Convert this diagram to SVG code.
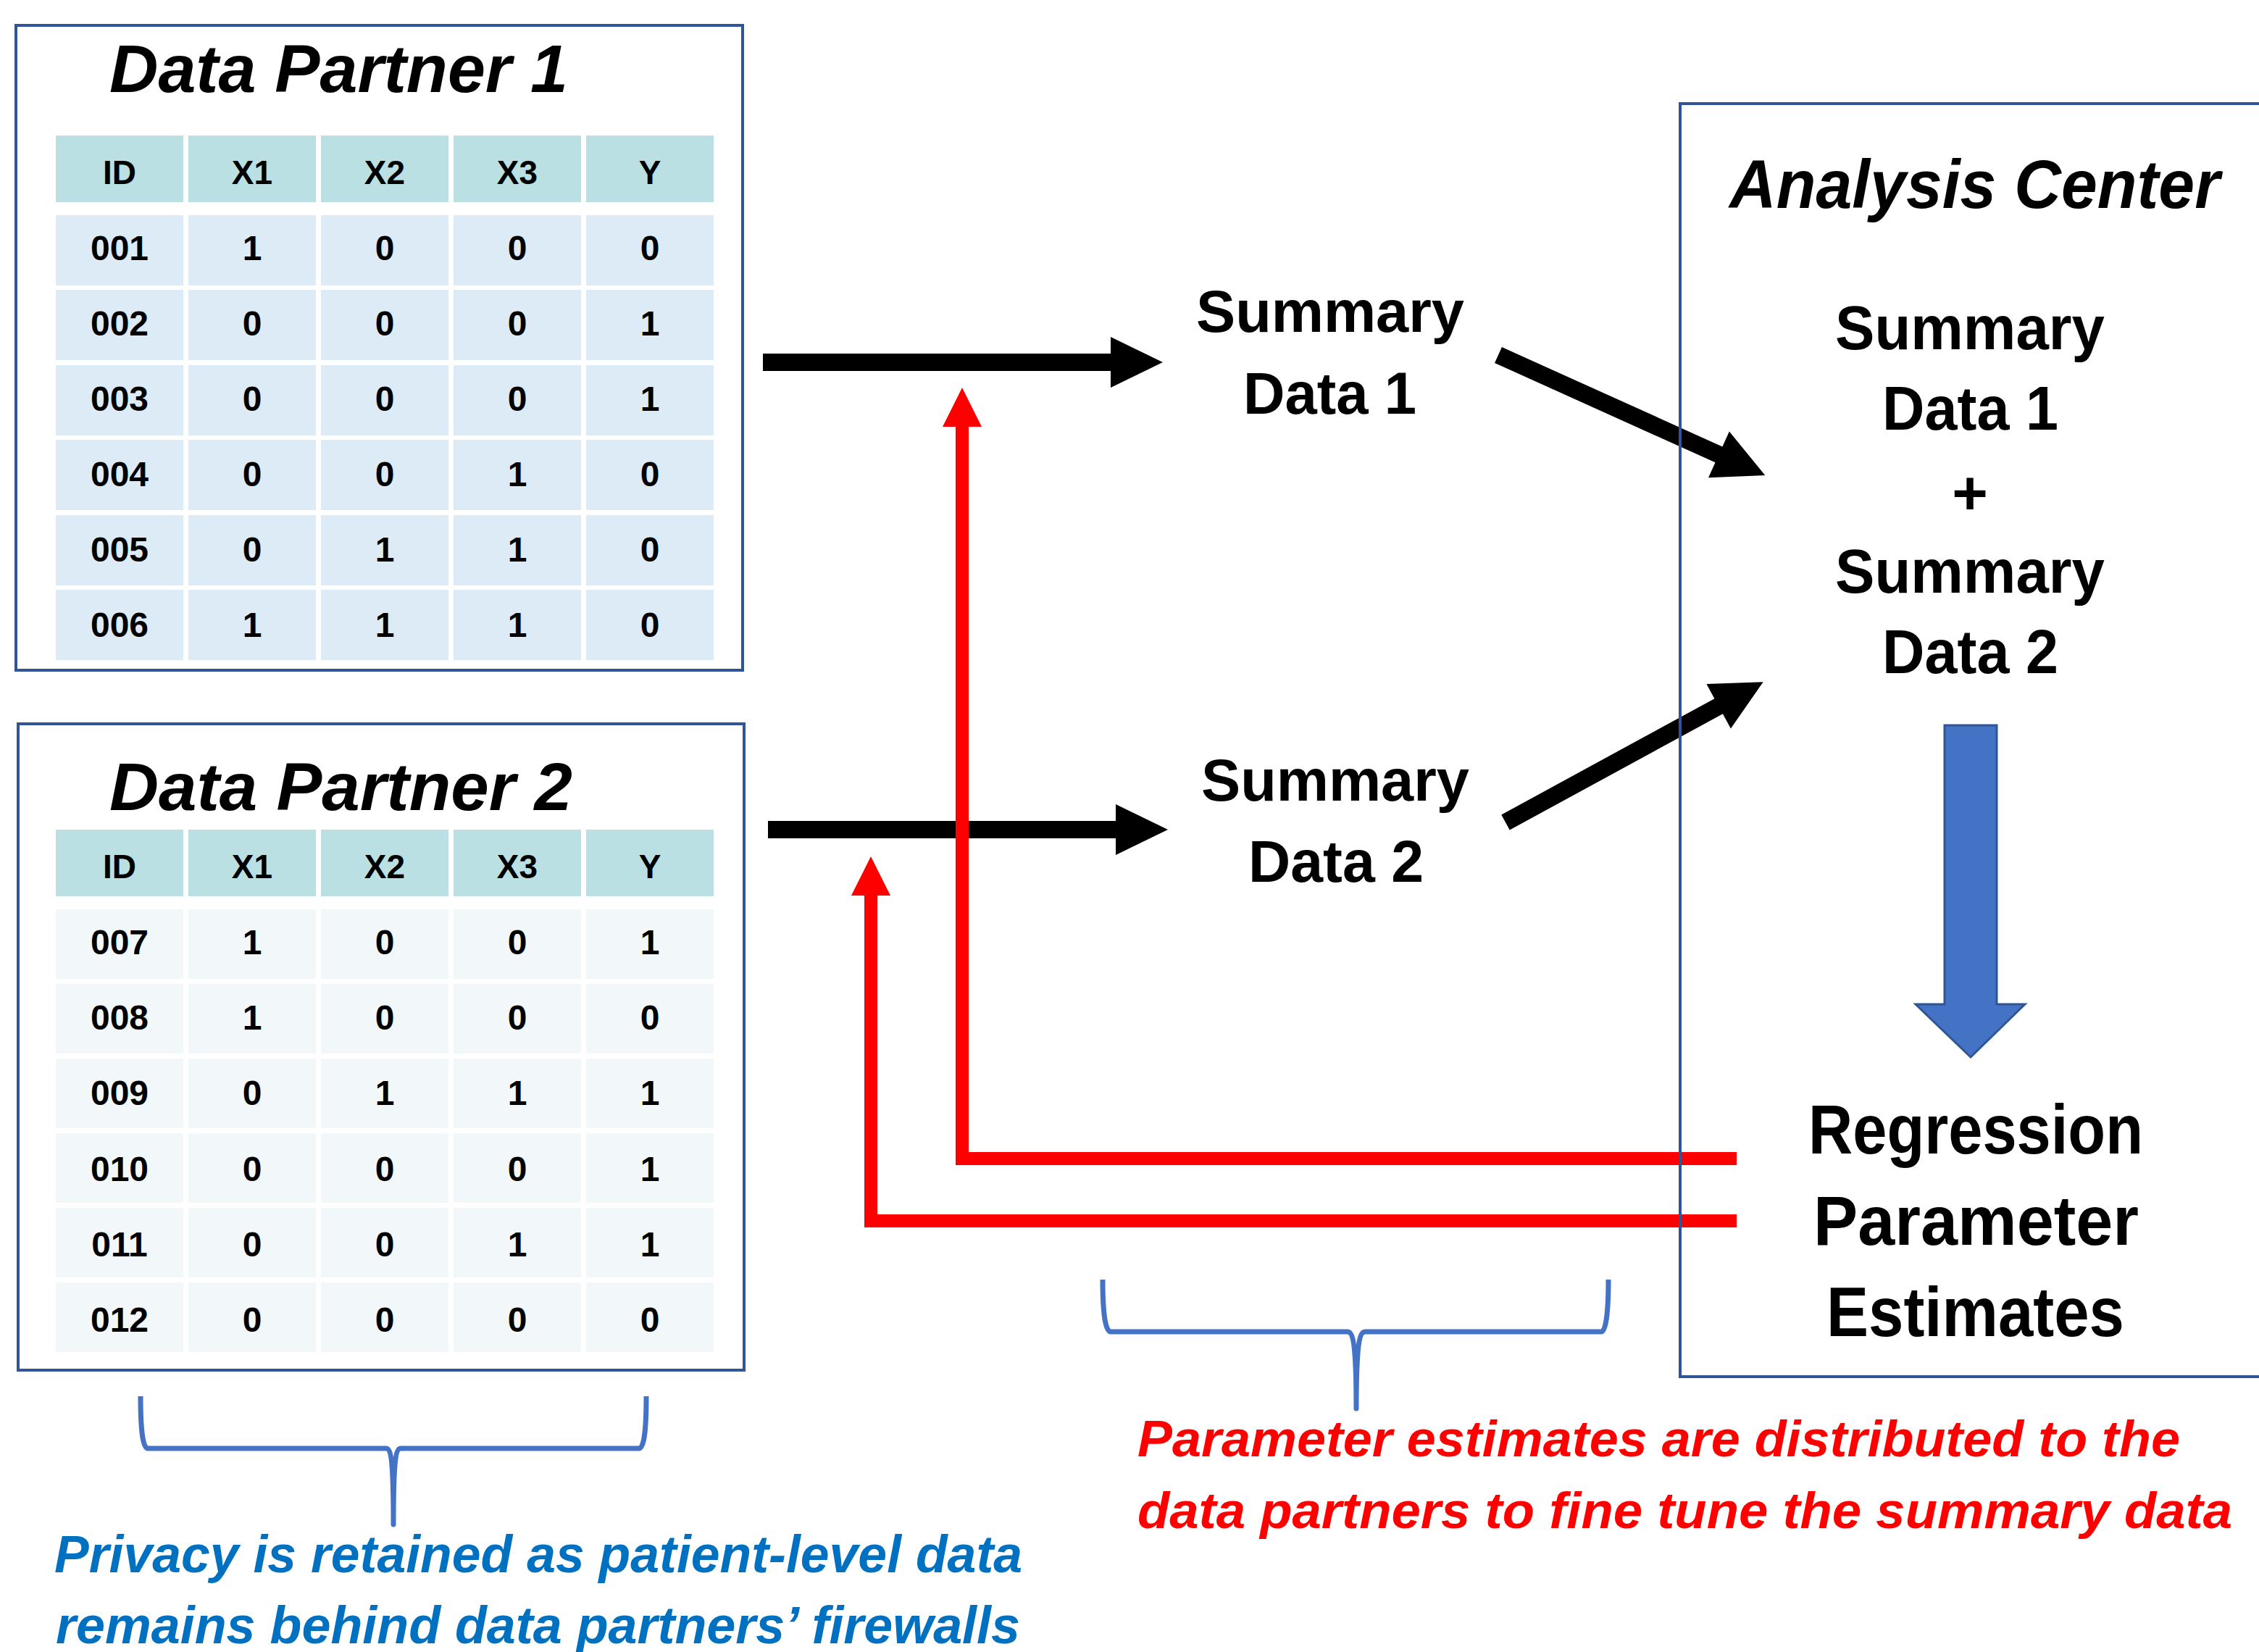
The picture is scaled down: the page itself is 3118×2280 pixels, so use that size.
<svg xmlns="http://www.w3.org/2000/svg" width="3118" height="2280" viewBox="0 0 3118 2280">
<style>
.box{fill:#ffffff;stroke:#2F5597;stroke-width:4}
.hdr{fill:#BAE0E3}
.r1{fill:#DDEBF7}
.r2{fill:#F2F8F9}
.ct{font-family:"Liberation Sans",Arial,sans-serif;font-weight:bold;font-size:48px;fill:#000;text-anchor:middle}
.ht{font-family:"Liberation Sans",Arial,sans-serif;font-weight:bold;font-size:46px;fill:#000;text-anchor:middle}
.title{font-family:"Liberation Sans",Arial,sans-serif;font-weight:bold;font-style:italic;font-size:93px;fill:#000}
.lbl{font-family:"Liberation Sans",Arial,sans-serif;font-weight:bold;fill:#000}
.note{font-family:"Liberation Sans",Arial,sans-serif;font-weight:bold;font-style:italic}
.blk{fill:#000}
.red{fill:none;stroke:#FF0000;stroke-width:18;stroke-linejoin:miter}
.redh{fill:#FF0000}
.brace{fill:none;stroke:#4472C4;stroke-width:7;stroke-linejoin:round}
</style>
<rect width="3118" height="2280" fill="#ffffff"/>

<g id="data-partner-1">
<rect class="box" x="22" y="35" width="1003" height="890"/>
<text class="title" x="151" y="127" textLength="633" lengthAdjust="spacingAndGlyphs">Data Partner 1</text>
<g>
<rect class="hdr" x="77" y="187" width="176" height="92"/><rect class="hdr" x="260" y="187" width="176" height="92"/><rect class="hdr" x="443" y="187" width="176" height="92"/><rect class="hdr" x="626" y="187" width="176" height="92"/><rect class="hdr" x="809" y="187" width="176" height="92"/>
<text class="ht" x="165" y="254">ID</text><text class="ht" x="348" y="254">X1</text><text class="ht" x="531" y="254">X2</text><text class="ht" x="714" y="254">X3</text><text class="ht" x="897" y="254">Y</text>
</g>
<g>
<rect class="r1" x="77" y="297" width="176" height="97"/><rect class="r1" x="260" y="297" width="176" height="97"/><rect class="r1" x="443" y="297" width="176" height="97"/><rect class="r1" x="626" y="297" width="176" height="97"/><rect class="r1" x="809" y="297" width="176" height="97"/>
<rect class="r1" x="77" y="400" width="176" height="97"/><rect class="r1" x="260" y="400" width="176" height="97"/><rect class="r1" x="443" y="400" width="176" height="97"/><rect class="r1" x="626" y="400" width="176" height="97"/><rect class="r1" x="809" y="400" width="176" height="97"/>
<rect class="r1" x="77" y="504" width="176" height="97"/><rect class="r1" x="260" y="504" width="176" height="97"/><rect class="r1" x="443" y="504" width="176" height="97"/><rect class="r1" x="626" y="504" width="176" height="97"/><rect class="r1" x="809" y="504" width="176" height="97"/>
<rect class="r1" x="77" y="607" width="176" height="97"/><rect class="r1" x="260" y="607" width="176" height="97"/><rect class="r1" x="443" y="607" width="176" height="97"/><rect class="r1" x="626" y="607" width="176" height="97"/><rect class="r1" x="809" y="607" width="176" height="97"/>
<rect class="r1" x="77" y="711" width="176" height="97"/><rect class="r1" x="260" y="711" width="176" height="97"/><rect class="r1" x="443" y="711" width="176" height="97"/><rect class="r1" x="626" y="711" width="176" height="97"/><rect class="r1" x="809" y="711" width="176" height="97"/>
<rect class="r1" x="77" y="814" width="176" height="97"/><rect class="r1" x="260" y="814" width="176" height="97"/><rect class="r1" x="443" y="814" width="176" height="97"/><rect class="r1" x="626" y="814" width="176" height="97"/><rect class="r1" x="809" y="814" width="176" height="97"/>
</g>
<g>
<text class="ct" x="165" y="359">001</text><text class="ct" x="348" y="359">1</text><text class="ct" x="531" y="359">0</text><text class="ct" x="714" y="359">0</text><text class="ct" x="897" y="359">0</text>
<text class="ct" x="165" y="463">002</text><text class="ct" x="348" y="463">0</text><text class="ct" x="531" y="463">0</text><text class="ct" x="714" y="463">0</text><text class="ct" x="897" y="463">1</text>
<text class="ct" x="165" y="567">003</text><text class="ct" x="348" y="567">0</text><text class="ct" x="531" y="567">0</text><text class="ct" x="714" y="567">0</text><text class="ct" x="897" y="567">1</text>
<text class="ct" x="165" y="671">004</text><text class="ct" x="348" y="671">0</text><text class="ct" x="531" y="671">0</text><text class="ct" x="714" y="671">1</text><text class="ct" x="897" y="671">0</text>
<text class="ct" x="165" y="775">005</text><text class="ct" x="348" y="775">0</text><text class="ct" x="531" y="775">1</text><text class="ct" x="714" y="775">1</text><text class="ct" x="897" y="775">0</text>
<text class="ct" x="165" y="879">006</text><text class="ct" x="348" y="879">1</text><text class="ct" x="531" y="879">1</text><text class="ct" x="714" y="879">1</text><text class="ct" x="897" y="879">0</text>
</g>
</g>

<g id="data-partner-2">
<rect class="box" x="25" y="999" width="1002" height="892"/>
<text class="title" x="151" y="1118" textLength="639" lengthAdjust="spacingAndGlyphs">Data Partner 2</text>
<g>
<rect class="hdr" x="77" y="1145" width="176" height="92"/><rect class="hdr" x="260" y="1145" width="176" height="92"/><rect class="hdr" x="443" y="1145" width="176" height="92"/><rect class="hdr" x="626" y="1145" width="176" height="92"/><rect class="hdr" x="809" y="1145" width="176" height="92"/>
<text class="ht" x="165" y="1212">ID</text><text class="ht" x="348" y="1212">X1</text><text class="ht" x="531" y="1212">X2</text><text class="ht" x="714" y="1212">X3</text><text class="ht" x="897" y="1212">Y</text>
</g>
<g>
<rect class="r2" x="77" y="1255" width="176" height="96"/><rect class="r2" x="260" y="1255" width="176" height="96"/><rect class="r2" x="443" y="1255" width="176" height="96"/><rect class="r2" x="626" y="1255" width="176" height="96"/><rect class="r2" x="809" y="1255" width="176" height="96"/>
<rect class="r2" x="77" y="1358" width="176" height="96"/><rect class="r2" x="260" y="1358" width="176" height="96"/><rect class="r2" x="443" y="1358" width="176" height="96"/><rect class="r2" x="626" y="1358" width="176" height="96"/><rect class="r2" x="809" y="1358" width="176" height="96"/>
<rect class="r2" x="77" y="1461" width="176" height="96"/><rect class="r2" x="260" y="1461" width="176" height="96"/><rect class="r2" x="443" y="1461" width="176" height="96"/><rect class="r2" x="626" y="1461" width="176" height="96"/><rect class="r2" x="809" y="1461" width="176" height="96"/>
<rect class="r2" x="77" y="1564" width="176" height="96"/><rect class="r2" x="260" y="1564" width="176" height="96"/><rect class="r2" x="443" y="1564" width="176" height="96"/><rect class="r2" x="626" y="1564" width="176" height="96"/><rect class="r2" x="809" y="1564" width="176" height="96"/>
<rect class="r2" x="77" y="1667" width="176" height="96"/><rect class="r2" x="260" y="1667" width="176" height="96"/><rect class="r2" x="443" y="1667" width="176" height="96"/><rect class="r2" x="626" y="1667" width="176" height="96"/><rect class="r2" x="809" y="1667" width="176" height="96"/>
<rect class="r2" x="77" y="1770" width="176" height="96"/><rect class="r2" x="260" y="1770" width="176" height="96"/><rect class="r2" x="443" y="1770" width="176" height="96"/><rect class="r2" x="626" y="1770" width="176" height="96"/><rect class="r2" x="809" y="1770" width="176" height="96"/>
</g>
<g>
<text class="ct" x="165" y="1317">007</text><text class="ct" x="348" y="1317">1</text><text class="ct" x="531" y="1317">0</text><text class="ct" x="714" y="1317">0</text><text class="ct" x="897" y="1317">1</text>
<text class="ct" x="165" y="1421">008</text><text class="ct" x="348" y="1421">1</text><text class="ct" x="531" y="1421">0</text><text class="ct" x="714" y="1421">0</text><text class="ct" x="897" y="1421">0</text>
<text class="ct" x="165" y="1525">009</text><text class="ct" x="348" y="1525">0</text><text class="ct" x="531" y="1525">1</text><text class="ct" x="714" y="1525">1</text><text class="ct" x="897" y="1525">1</text>
<text class="ct" x="165" y="1630">010</text><text class="ct" x="348" y="1630">0</text><text class="ct" x="531" y="1630">0</text><text class="ct" x="714" y="1630">0</text><text class="ct" x="897" y="1630">1</text>
<text class="ct" x="165" y="1734">011</text><text class="ct" x="348" y="1734">0</text><text class="ct" x="531" y="1734">0</text><text class="ct" x="714" y="1734">1</text><text class="ct" x="897" y="1734">1</text>
<text class="ct" x="165" y="1838">012</text><text class="ct" x="348" y="1838">0</text><text class="ct" x="531" y="1838">0</text><text class="ct" x="714" y="1838">0</text><text class="ct" x="897" y="1838">0</text>
</g>
</g>

<g id="summary-data-1">
<text class="lbl" font-size="82" x="1651" y="458" textLength="370" lengthAdjust="spacingAndGlyphs">Summary</text>
<text class="lbl" font-size="82" x="1716" y="571" textLength="239" lengthAdjust="spacingAndGlyphs">Data 1</text>
</g>
<g id="summary-data-2">
<text class="lbl" font-size="82" x="1658" y="1105" textLength="370" lengthAdjust="spacingAndGlyphs">Summary</text>
<text class="lbl" font-size="82" x="1723" y="1217" textLength="242" lengthAdjust="spacingAndGlyphs">Data 2</text>
</g>

<g id="connectors">
<polygon class="blk" points="1053,488 1533,488 1533,465 1605,500 1533,535 1533,512 1053,512"/>
<polygon class="blk" points="1060,1133 1540,1133 1540,1110 1612,1145 1540,1180 1540,1157 1060,1157"/>
<polygon class="blk" transform="translate(2068,490) rotate(24.28)" points="0,-12 334,-12 334,-35 404,0 334,35 334,12 0,12"/>
<polygon class="blk" transform="translate(2078,1135) rotate(-28.59)" points="0,-12 335,-12 335,-35 405,0 335,35 335,12 0,12"/>
<path class="red" d="M2397,1599 H1328 V588"/>
<polygon class="redh" points="1301,589 1328,535 1355,589"/>
<path class="red" d="M2397,1685 H1202 V1235"/>
<polygon class="redh" points="1175,1236 1202,1182 1229,1236"/>
</g>

<g id="analysis-center">
<rect x="2319" y="143" width="900" height="1757" fill="none" stroke="#2F5597" stroke-width="4"/>
<text class="lbl" font-style="italic" font-size="95" x="2387" y="287" textLength="677" lengthAdjust="spacingAndGlyphs">Analysis Center</text>
<text class="lbl" font-size="85" x="2533" y="482" textLength="372" lengthAdjust="spacingAndGlyphs">Summary</text>
<text class="lbl" font-size="85" x="2598" y="593" textLength="243" lengthAdjust="spacingAndGlyphs">Data 1</text>
<text class="lbl" font-size="85" x="2719" y="710" text-anchor="middle">+</text>
<text class="lbl" font-size="85" x="2533" y="818" textLength="372" lengthAdjust="spacingAndGlyphs">Summary</text>
<text class="lbl" font-size="85" x="2598" y="929" textLength="243" lengthAdjust="spacingAndGlyphs">Data 2</text>
<polygon points="2684,1001 2756,1001 2756,1386 2795,1386 2720,1459 2644,1386 2684,1386" fill="#4472C4" stroke="#2F5597" stroke-width="3"/>
<text class="lbl" font-size="96" x="2496" y="1592" textLength="462" lengthAdjust="spacingAndGlyphs">Regression</text>
<text class="lbl" font-size="96" x="2503" y="1718" textLength="449" lengthAdjust="spacingAndGlyphs">Parameter</text>
<text class="lbl" font-size="96" x="2521" y="1844" textLength="411" lengthAdjust="spacingAndGlyphs">Estimates</text>
</g>

<g id="privacy-note">
<path class="brace" d="M194,1927 C194,1965 196,1999 204,1999 H533 C540,1999 543,2020 543,2104 C543,2020 546,1999 553,1999 H882 C890,1999 892,1965 892,1927"/>
<text class="note" fill="#0070C0" font-size="72" x="75" y="2170" textLength="1336" lengthAdjust="spacingAndGlyphs">Privacy is retained as patient-level data</text>
<text class="note" fill="#0070C0" font-size="72" x="77" y="2268" textLength="1331" lengthAdjust="spacingAndGlyphs">remains behind data partners’ firewalls</text>
</g>

<g id="parameter-note">
<path class="brace" d="M1522,1766 C1522,1800 1524,1838 1533,1838 H1860 C1868,1838 1872,1860 1872,1944 C1872,1860 1876,1838 1884,1838 H2210 C2218,1838 2220,1800 2220,1766"/>
<text class="note" fill="#FF0000" font-size="70" x="1570" y="2010" textLength="1439" lengthAdjust="spacingAndGlyphs">Parameter estimates are distributed to the</text>
<text class="note" fill="#FF0000" font-size="70" x="1570" y="2109" textLength="1511" lengthAdjust="spacingAndGlyphs">data partners to fine tune the summary data</text>
</g>
</svg>
